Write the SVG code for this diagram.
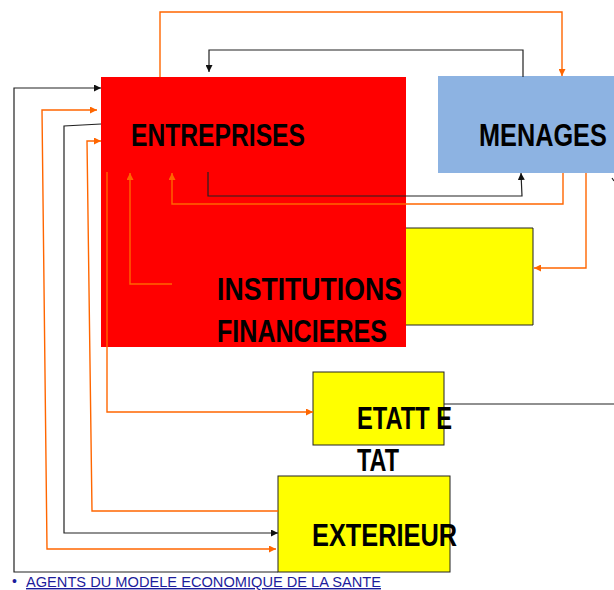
<svg xmlns="http://www.w3.org/2000/svg" width="614" height="590" viewBox="0 0 614 590">
<style>
.lbl{font-family:"Liberation Sans",Arial,sans-serif;font-size:32px;font-weight:bold;fill:#000;}
.o{fill:none;stroke:#FF6600;stroke-width:1.4;}
.k{fill:none;stroke:#222;stroke-width:1.2;}
.box{stroke:#222;stroke-width:1;}
.foot{font-family:"Liberation Sans",Arial,sans-serif;font-size:14px;fill:#1c1c9c;}
</style>
<defs>
<marker id="ao" markerUnits="userSpaceOnUse" markerWidth="8" markerHeight="7" refX="7" refY="3.5" orient="auto-start-reverse"><path d="M0,0 L7,3.5 L0,7 Z" fill="#FF6600"/></marker>
<marker id="ak" markerUnits="userSpaceOnUse" markerWidth="8" markerHeight="7" refX="7" refY="3.5" orient="auto-start-reverse"><path d="M0,0 L7,3.5 L0,7 Z" fill="#111"/></marker>
</defs>
<rect width="614" height="590" fill="#fff"/>
<g id="entreprises">
<rect x="101" y="77" width="305" height="270" fill="#FF0000"/>
<text class="lbl" x="131" y="146" textLength="174" lengthAdjust="spacingAndGlyphs">ENTREPRISES</text>
</g>
<g id="menages">
<rect x="438" y="76" width="176" height="97" fill="#8DB3E2"/>
<text class="lbl" transform="translate(479,146) scale(0.79,1)" x="0" y="0">MENAGES</text>
</g>
<g id="institutions">
<rect x="406" y="228" width="127" height="97" fill="#FFFF00"/>
<path d="M406,228 H533 V325 H406" fill="none" class="box"/>
<text class="lbl" x="217" y="300" textLength="185" lengthAdjust="spacingAndGlyphs">INSTITUTIONS</text>
<text class="lbl" x="217" y="342" textLength="170" lengthAdjust="spacingAndGlyphs">FINANCIERES</text>
</g>
<g id="etat">
<rect x="313" y="372" width="131" height="73" fill="#FFFF00" class="box"/>
<text class="lbl" x="357" y="429" textLength="95" lengthAdjust="spacingAndGlyphs">ETATT E</text>
<text class="lbl" x="357" y="471" textLength="42" lengthAdjust="spacingAndGlyphs">TAT</text>
</g>
<g id="exterieur">
<rect x="278" y="476" width="172" height="96" fill="#FFFF00" class="box"/>
<text class="lbl" x="312" y="546" textLength="145" lengthAdjust="spacingAndGlyphs">EXTERIEUR</text>
</g>
<g id="connectors">
<path class="o" d="M160,77 V12 H562 V76" marker-end="url(#ao)"/>
<path class="k" d="M523,77 V50 H209 V72" marker-end="url(#ak)"/>
<path class="k" d="M208,172 V196 H522 L521,173" marker-end="url(#ak)"/>
<path class="o" d="M563,173 V204 H172 V173" marker-end="url(#ao)"/>
<path class="o" d="M586,173 V268 H534" marker-end="url(#ao)"/>
<path class="o" d="M172,284 H130 V173" marker-end="url(#ao)"/>
<path class="o" d="M107,172 V412 H313" marker-end="url(#ao)"/>
<path class="k" d="M444,404 H614"/>
<path class="k" d="M278,572 H14 V88 H101" marker-end="url(#ak)"/>
<path class="o" d="M97,110 H42 L47,549 H276" marker-start="url(#ao)" marker-end="url(#ao)"/>
<path class="k" d="M101,124 L64,126 V533 H278" marker-end="url(#ak)"/>
<path class="o" d="M278,511 H92 L87,141 H101" marker-end="url(#ao)"/>
<path class="k" d="M612,178 L614,181"/>
</g>
<g id="footer">
<text class="foot" x="12" y="586" font-size="12">•</text>
<text class="foot" x="26" y="587" textLength="355" lengthAdjust="spacingAndGlyphs" text-decoration="underline">AGENTS DU MODELE ECONOMIQUE DE LA SANTE</text>
</g>
</svg>
